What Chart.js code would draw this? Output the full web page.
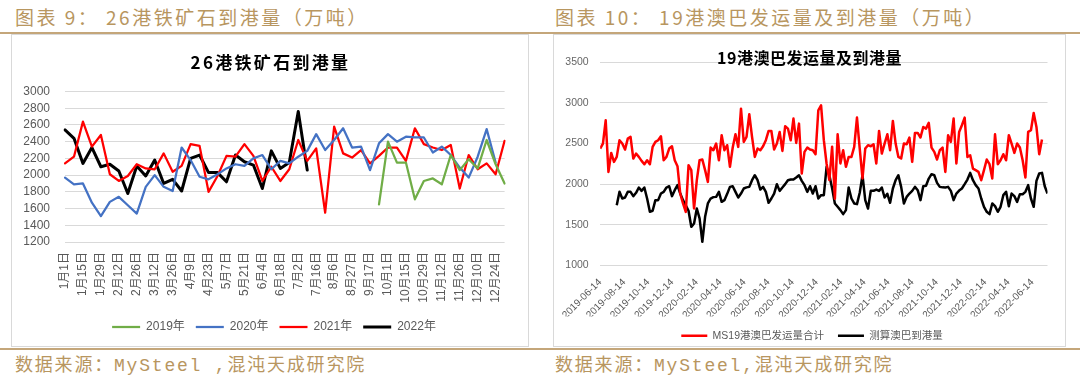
<!DOCTYPE html>
<html>
<head>
<meta charset="utf-8">
<script src="https://cdn.jsdelivr.net/npm/chart.js@4.4.1/dist/chart.umd.min.js"></script>
<style>
  html, body { margin:0; padding:0; background:#fff; }
  body { width:1080px; height:382px; position:relative; overflow:hidden; font-family:"Noto Sans CJK SC", sans-serif; }
  .cap { position:absolute; font-size:19px; line-height:22px; color:#B8965F; letter-spacing:2.5px; white-space:nowrap; }
  .src { position:absolute; font-size:18px; line-height:22px; color:#B8965F; letter-spacing:1.8px; white-space:nowrap; font-family:"Liberation Mono","Noto Sans CJK SC",monospace; }
  .rule { position:absolute; left:0; width:1080px; height:2px; background:#C4A67A; }
  .box { position:absolute; box-sizing:border-box; border:1px solid #D9D9D9; background:#fff; }
  .ttl { position:absolute; text-align:center; font-weight:700; color:#000; line-height:20px; white-space:nowrap; }
  canvas { position:absolute; }
</style>
</head>
<body>
<div class="cap" style="left:15px;top:6px">图表 9： 26港铁矿石到港量（万吨）</div>
<div class="cap" style="left:555px;top:6px">图表 10： 19港澳巴发运量及到港量（万吨）</div>
<div class="rule" style="top:32px"></div>
<div class="box" style="left:11px;top:34px;width:518px;height:313px"></div>
<div class="box" style="left:553px;top:34px;width:513px;height:313px"></div>
<div class="rule" style="top:348px"></div>
<div class="src" style="left:15px;top:355px">数据来源：MySteel ,混沌天成研究院</div>
<div class="src" style="left:555px;top:355px">数据来源：MySteel,混沌天成研究院</div>

<canvas id="cL" width="517" height="314" style="left:12px;top:34px"></canvas>
<canvas id="cR" width="513" height="317" style="left:553px;top:34px"></canvas>
<div class="ttl" style="left:12px;top:52px;width:517px;font-size:17px;letter-spacing:2.3px">26港铁矿石到港量</div>
<div class="ttl" style="left:553px;top:47px;width:513px;font-size:16px;letter-spacing:0.5px">19港澳巴发运量及到港量</div>

<script>
// ---------- Chart 1: 26港铁矿石到港量 (weekly categories) ----------
const weekLabels = ['1月1日','1月8日','1月15日','1月22日','1月29日','2月5日','2月12日','2月19日','2月26日','3月5日',
  '3月12日','3月19日','3月26日','4月2日','4月9日','4月16日','4月23日','4月30日','5月7日','5月14日',
  '5月21日','5月28日','6月4日','6月11日','6月18日','6月25日','7月2日','7月9日','7月16日','7月30日',
  '8月6日','8月20日','8月27日','9月10日','9月17日','9月24日','10月1日','10月8日','10月15日','10月22日',
  '10月29日','11月5日','11月12日','11月19日','11月26日','12月3日','12月10日','12月17日','12月24日','12月31日'];

const y2019 = [null,null,null,null,null,null,null,null,null,null,
  null,null,null,null,null,null,null,null,null,null,
  null,null,null,null,null,null,null,null,null,null,
  null,null,null,null,null,1650,2400,2150,2150,1710,
  1930,1960,1890,2240,2060,2190,2080,2420,2130,1900];
const y2020 = [1970,1890,1900,1670,1510,1680,1740,1640,1540,1860,
  2000,1860,1810,2330,2180,1980,1950,2010,2080,2130,
  2110,2200,2240,2070,2170,2140,2220,2290,2490,2300,
  2420,2560,2330,2340,2060,2380,2490,2400,2460,2450,
  2450,2270,2340,2240,2090,1970,2220,2550,2150,null];
const y2021 = [2140,2220,2640,2340,2480,2010,1930,1990,2130,2080,
  2070,2260,2040,2110,2370,2350,1800,1990,2230,2220,
  2370,2230,1930,2100,1930,2070,2420,2170,2320,1550,
  2580,2260,2210,2300,2140,2230,2330,2330,2170,2560,
  2370,2330,2300,2360,1840,2240,2070,2140,2010,2410];
const y2022 = [2540,2440,2140,2330,2100,2130,2050,1780,2110,1990,
  2180,1900,1950,1810,2200,2240,2030,2030,1920,2240,
  2160,2120,1840,2290,2080,2150,2760,2060];

const seriesNamesL = ['2019年','2020年','2021年','2022年'];

// ---------- Chart 2: 19港澳巴发运量及到港量 (weekly, date axis) ----------
const xTickLabels = ['2019-06-14','2019-08-14','2019-10-14','2019-12-14','2020-02-14','2020-04-14','2020-06-14',
  '2020-08-14','2020-10-14','2020-12-14','2021-02-14','2021-04-14','2021-06-14','2021-08-14','2021-10-14',
  '2021-12-14','2022-02-14','2022-04-14','2022-06-14'];
const shipStart = '2019-06-14';   // first weekly point of 发运量
const arriveStart = '2019-07-26'; // first weekly point of 到港量
const shipments = [2437,2498,2784,2150,2383,2273,2334,2539,2498,2424,
  2559,2580,2314,2375,2334,2285,2244,2293,2244,2457,
  2518,2539,2588,2293,2334,2437,2465,2293,2220,1884,
  1762,1659,2232,2171,1700,2048,2293,2302,2171,2027,
  2449,2416,2498,2293,2600,2416,2478,2212,2449,2612,
  2457,2927,2518,2580,2858,2580,2334,2437,2416,2465,
  2539,2653,2653,2424,2498,2641,2408,2711,2682,2539,
  2805,2506,2743,2130,2396,2449,2424,2416,2367,2907,
  2968,2540,2250,2050,2460,1820,2612,2253,2416,2212,
  2334,2334,2457,2817,2437,2069,2437,2478,2465,2490,
  2253,2653,2375,2498,2612,2416,2776,2498,2334,2314,
  2498,2490,2572,2273,2629,2629,2572,2702,2682,2752,
  2449,2396,2302,2416,2449,2150,2600,2518,2805,2253,
  2641,2723,2817,2334,2355,2191,2171,2150,2048,2171,
  2302,2244,2069,2612,2244,2293,2367,2293,2600,2498,
  2383,2498,2449,2293,2081,2641,2661,2874,2702,2367,
  2547];
const arrivals = [1740,1905,1823,1835,1905,1905,1852,1893,1958,1917,
  1958,1823,1660,1672,1803,1803,1884,1905,1958,1974,
  1852,1925,1987,1884,1803,1740,1672,1475,1516,1700,
  1578,1291,1598,1762,1823,1840,1843,1905,1782,1803,
  1880,1966,1974,1905,1835,1884,1946,1960,1966,2048,
  2109,2048,1933,1966,1905,1770,1823,1884,1999,1917,
  1958,2000,2048,2056,2056,2081,2109,2040,1987,1905,
  1974,1884,1974,1823,1864,1864,2212,2109,1950,1762,
  1721,1680,1631,1680,1958,1823,1762,1754,1893,2109,
  1803,1700,1917,1917,1933,1917,1958,1835,1880,1770,
  1946,2048,2109,1966,1762,1843,1884,1917,1966,1925,
  1803,1974,1980,2068,2122,2109,2015,1966,1960,1958,
  1966,1917,1803,1884,1920,1946,1999,2056,2138,2048,
  1987,1946,1823,1721,1660,1631,1762,1729,1660,1721,
  1864,1905,1729,1884,1852,1782,1876,1876,1905,1987,
  1823,1721,2040,2130,2138,1974,1884];
const seriesNamesR = ['MS19港澳巴发运量合计','测算澳巴到港量'];

// ---------- helpers ----------
const FONT = "'Liberation Sans','Noto Sans CJK SC',sans-serif";
Chart.defaults.font.family = FONT;
function dayNum(s){ const p = s.split('-').map(Number); return Date.UTC(p[0], p[1]-1, p[2]) / 86400000; }
const axis0 = dayNum(xTickLabels[0]);
function weekly(start, vals){ const d0 = dayNum(start) - axis0; return vals.map((v,i)=>({x: d0 + 7*i, y: v})); }
const shipPts = weekly(shipStart, shipments);
const arrPts = weekly(arriveStart, arrivals);
const xMax = arrPts[arrPts.length-1].x;
const tickDays = xTickLabels.map(s => dayNum(s) - axis0);
const plainNum = (v) => String(v);

// shifts the legend's left bound so it centres like the original
const legendShift = { id:'legendShift', afterLayout(chart, args, opts){ if (chart.legend) chart.legend.left += opts.dx || 0; } };

// ---------- left chart ----------
new Chart(document.getElementById('cL'), {
  type: 'line',
  data: {
    labels: weekLabels,
    datasets: [
      {label: seriesNamesL[0], data: y2019, borderColor:'#70AD47', backgroundColor:'#70AD47', borderWidth:2.25},
      {label: seriesNamesL[1], data: y2020, borderColor:'#4472C4', backgroundColor:'#4472C4', borderWidth:2.25},
      {label: seriesNamesL[2], data: y2021, borderColor:'#FF0000', backgroundColor:'#FF0000', borderWidth:2.25},
      {label: seriesNamesL[3], data: y2022, borderColor:'#000000', backgroundColor:'#000000', borderWidth:3}
    ]
  },
  plugins:[legendShift],
  options: {
    responsive:false, animation:false,
    layout:{padding:{left:0, right:17, top:57.5, bottom:5}},
    elements:{point:{radius:0, hoverRadius:0}, line:{tension:0, borderJoinStyle:'round', borderCapStyle:'round'}},
    plugins:{
      tooltip:{enabled:false},
      legendShift:{dx:24},
      legend:{position:'bottom', labels:{usePointStyle:true, pointStyle:'line', pointStyleWidth:28, padding:11,
        color:'#595959', font:{size:12, family:FONT}}}
    },
    scales:{
      x:{ offset:false, grid:{display:false, drawTicks:false}, border:{display:false},
          ticks:{autoSkip:false, minRotation:90, maxRotation:90, padding:10, color:'#595959', font:{size:12},
                 callback:(v,i)=> i%2===0 ? weekLabels[i] : ''},
          afterFit:(s)=>{ s.height = 68; } },
      y:{ min:1200, max:3000, grid:{color:'#D9D9D9', lineWidth:1, drawTicks:false}, border:{display:false},
          ticks:{stepSize:200, autoSkip:false, padding:15, color:'#595959', font:{size:12}, callback:plainNum},
          afterFit:(s)=>{ s.width = 53; } }
    }
  }
});

// ---------- right chart ----------
new Chart(document.getElementById('cR'), {
  type: 'line',
  data: {
    datasets: [
      {label: seriesNamesR[0], data: shipPts, borderColor:'#FF0000', backgroundColor:'#FF0000', borderWidth:2.5},
      {label: seriesNamesR[1], data: arrPts, borderColor:'#000000', backgroundColor:'#000000', borderWidth:2.5}
    ]
  },
  plugins:[legendShift],
  options: {
    responsive:false, animation:false,
    layout:{padding:{left:0, right:18.5, top:28, bottom:0}},
    elements:{point:{radius:0, hoverRadius:0}, line:{tension:0, borderJoinStyle:'round'}},
    plugins:{
      tooltip:{enabled:false},
      legendShift:{dx:23.5},
      legend:{position:'bottom', labels:{usePointStyle:true, pointStyle:'line', pointStyleWidth:26, padding:14,
        color:'#595959', font:{size:10.5, family:FONT}}}
    },
    scales:{
      x:{ type:'linear', min:0, max:xMax, grid:{display:false, drawTicks:false}, border:{display:false},
          afterBuildTicks:(s)=>{ s.ticks = tickDays.map(d=>({value:d})); },
          ticks:{autoSkip:false, minRotation:45, maxRotation:45, padding:11, color:'#595959', font:{size:10},
                 callback:(v,i)=> xTickLabels[i]},
          afterFit:(s)=>{ s.height = 51; } },
      y:{ min:1000, max:3500, grid:{color:'#D9D9D9', lineWidth:1, drawTicks:false}, border:{display:false},
          ticks:{stepSize:500, autoSkip:false, padding:11.5, color:'#666666', font:{size:10.5}, callback:plainNum},
          afterFit:(s)=>{ s.width = 45.5; } }
    }
  }
});
</script>
</body>
</html>
